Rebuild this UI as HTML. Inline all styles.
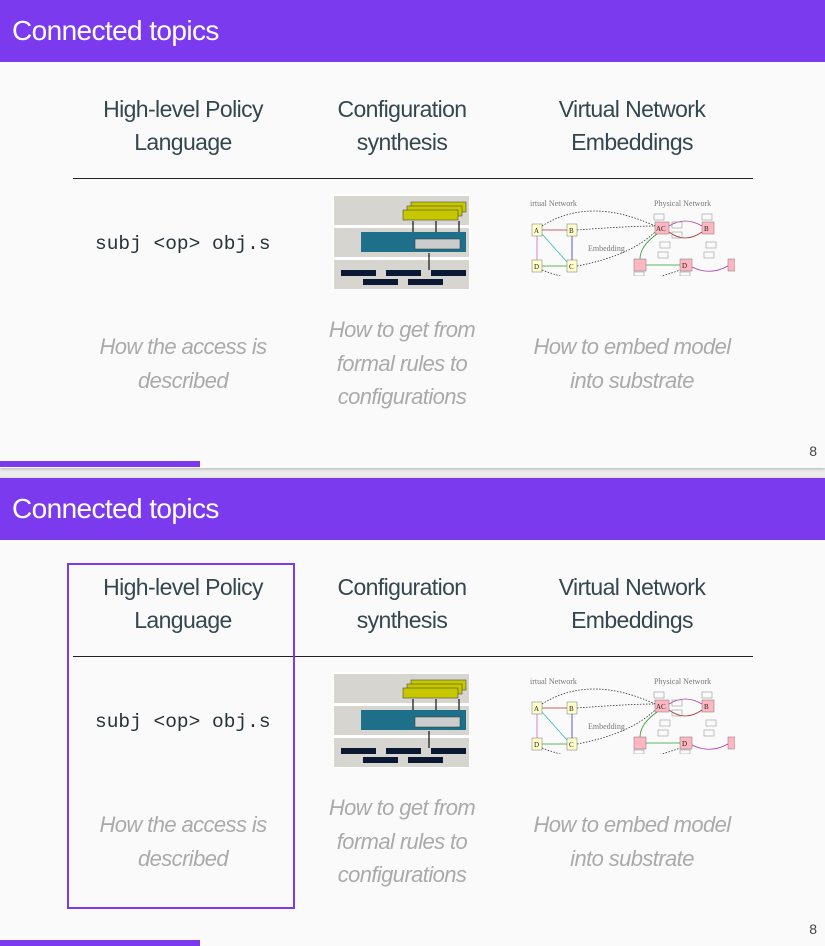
<!DOCTYPE html>
<html><head><meta charset="utf-8"><style>
*{margin:0;padding:0;box-sizing:border-box}
body{width:825px;height:946px;background:#ececec;font-family:"Liberation Sans",sans-serif;position:relative;overflow:hidden}
.slide{position:absolute;left:0;width:825px;height:468px;background:#fafafa;box-shadow:0 1px 3px rgba(0,0,0,.25)}
.hdr{position:absolute;left:0;top:0;width:825px;height:62px;background:#7c3aee;color:#fff;font-size:28px;line-height:62px;padding-left:12px;letter-spacing:-0.6px;transform-origin:left}
.h{position:absolute;width:240px;text-align:center;color:#34474f;font-size:23px;line-height:33px;letter-spacing:-0.6px}
.rule{position:absolute;left:73px;top:178px;width:680px;height:1px;background:#222}
.code{position:absolute;left:95px;top:233px;font-family:"Liberation Mono",monospace;font-size:19.5px;color:#263238}
.it{position:absolute;width:240px;text-align:center;color:#aaa;font-style:italic;font-size:22px;line-height:33.5px;letter-spacing:-0.6px}
.pb{position:absolute;left:0;top:461px;width:200px;height:6px;background:#7c3aee}
.num{position:absolute;right:8px;top:443px;font-size:14px;color:#444}
.box{position:absolute;left:67px;top:85px;width:228px;height:346px;border:2.5px solid #7c3aee}
</style></head><body>

<div class="slide" style="top:0">
<div class="hdr">Connected topics</div>
<div class="h" style="left:63px;top:93px">High-level Policy<br>Language</div>
<div class="h" style="left:282px;top:93px">Configuration<br>synthesis</div>
<div class="h" style="left:512px;top:93px">Virtual Network<br>Embeddings</div>
<div class="rule"></div>
<div class="code">subj &lt;op&gt; obj.s</div>
<svg style="position:absolute;left:333px;top:194px" width="137" height="96" viewBox="0 0 137 96">
<rect width="137" height="96" fill="#fff"/>
<rect x="1" y="2" width="135" height="29" fill="#d6d5d0"/>
<rect x="1" y="34" width="135" height="29" fill="#d6d5d0"/>
<rect x="1" y="66" width="135" height="29" fill="#d6d5d0"/>
<rect x="78" y="8" width="55" height="10" fill="#c7c700" stroke="#333" stroke-width=".5"/>
<rect x="74" y="12" width="55" height="10" fill="#c7c700" stroke="#333" stroke-width=".5"/>
<rect x="70" y="16" width="55" height="10" fill="#c7c700" stroke="#333" stroke-width=".5"/>
<rect x="28" y="38" width="105" height="20" fill="#1d6f8a"/>
<rect x="82" y="45" width="45" height="10" fill="#ccc" stroke="#333" stroke-width=".5"/>
<g fill="#0b1833"><rect x="8" y="76" width="35" height="6"/><rect x="53" y="76" width="35" height="6"/><rect x="98" y="76" width="35" height="6"/><rect x="30" y="85" width="35" height="6"/><rect x="75" y="85" width="35" height="6"/></g>
<g stroke="#111" stroke-width="1.2"><line x1="80" y1="27" x2="80" y2="38"/><line x1="103" y1="27" x2="103" y2="38"/><line x1="126" y1="27" x2="126" y2="38"/><line x1="96" y1="59" x2="96" y2="76"/></g>
</svg>
<svg style="position:absolute;left:530px;top:196px" width="205" height="80" viewBox="0 0 205 80">
<text x="0" y="10" font-size="8" fill="#777" font-family="Liberation Serif">irtual Network</text>
<text x="124" y="10" font-size="8" fill="#777" font-family="Liberation Serif">Physical Network</text>
<text x="58" y="55" font-size="8" fill="#777" font-family="Liberation Serif">Embedding</text>
<g fill="#ffffcc" stroke="#888" stroke-width=".6"><rect x="2" y="28" width="10" height="12"/><rect x="37" y="28" width="10" height="12"/><rect x="2" y="64" width="10" height="12"/><rect x="37" y="64" width="10" height="12"/></g>
<g fill="#ffb6c1" stroke="#888" stroke-width=".6"><rect x="125" y="26" width="14" height="12"/><rect x="172" y="26" width="12" height="12"/><rect x="104" y="63" width="12" height="12"/><rect x="150" y="63" width="12" height="12"/><rect x="198" y="63" width="7" height="12"/></g>
<g font-size="7" font-family="Liberation Serif" fill="#222"><text x="4" y="37">A</text><text x="39" y="37">B</text><text x="4" y="73">D</text><text x="39" y="73">C</text><text x="126" y="35">AC</text><text x="174" y="35">B</text><text x="152" y="72">D</text></g>
<g fill="none" stroke-width=".8"><line x1="12" y1="34" x2="37" y2="34" stroke="#a33"/><line x1="12" y1="38" x2="37" y2="66" stroke="#3bb"/><line x1="42" y1="40" x2="42" y2="64" stroke="#33c"/><line x1="37" y1="70" x2="12" y2="70" stroke="#393"/><line x1="7" y1="40" x2="7" y2="64" stroke="#c6c"/>
<path d="M139 30 Q155 20 172 30" stroke="#a3a"/><path d="M139 36 Q155 48 172 36" stroke="#a33"/><path d="M127 38 Q110 50 110 63" stroke="#393"/><path d="M116 69 L150 69" stroke="#393"/><path d="M162 71 Q180 80 198 70" stroke="#a3a"/>
<path d="M12 30 Q60 0 125 30" stroke="#333" stroke-dasharray="1.5 1.5"/><path d="M47 34 Q100 30 125 30" stroke="#333" stroke-dasharray="1.5 1.5"/><path d="M47 70 Q100 60 125 36" stroke="#333" stroke-dasharray="1.5 1.5"/><path d="M12 74 Q80 100 150 74" stroke="#333" stroke-dasharray="1.5 1.5"/></g>
<g fill="none" stroke="#999" stroke-width=".6"><rect x="142" y="26" width="10" height="6"/><rect x="142" y="36" width="10" height="6"/><rect x="124" y="18" width="10" height="6"/><rect x="172" y="18" width="10" height="6"/><rect x="130" y="46" width="10" height="6"/><rect x="176" y="46" width="10" height="6"/><rect x="128" y="56" width="10" height="6"/><rect x="174" y="56" width="10" height="6"/><rect x="104" y="76" width="10" height="4"/><rect x="150" y="76" width="10" height="4"/></g>
</svg>
<div class="it" style="left:63px;top:330px">How the access is<br>described</div>
<div class="it" style="left:282px;top:313px">How to get from<br>formal rules to<br>configurations</div>
<div class="it" style="left:512px;top:330px">How to embed model<br>into substrate</div>
<div class="num">8</div>
<div class="pb"></div>
</div>

<div class="slide" style="top:478px;height:468px">
<div class="hdr">Connected topics</div>
<div class="h" style="left:63px;top:93px">High-level Policy<br>Language</div>
<div class="h" style="left:282px;top:93px">Configuration<br>synthesis</div>
<div class="h" style="left:512px;top:93px">Virtual Network<br>Embeddings</div>
<div class="rule"></div>
<div class="code">subj &lt;op&gt; obj.s</div>
<svg style="position:absolute;left:333px;top:194px" width="137" height="96" viewBox="0 0 137 96">
<rect width="137" height="96" fill="#fff"/>
<rect x="1" y="2" width="135" height="29" fill="#d6d5d0"/>
<rect x="1" y="34" width="135" height="29" fill="#d6d5d0"/>
<rect x="1" y="66" width="135" height="29" fill="#d6d5d0"/>
<rect x="78" y="8" width="55" height="10" fill="#c7c700" stroke="#333" stroke-width=".5"/>
<rect x="74" y="12" width="55" height="10" fill="#c7c700" stroke="#333" stroke-width=".5"/>
<rect x="70" y="16" width="55" height="10" fill="#c7c700" stroke="#333" stroke-width=".5"/>
<rect x="28" y="38" width="105" height="20" fill="#1d6f8a"/>
<rect x="82" y="45" width="45" height="10" fill="#ccc" stroke="#333" stroke-width=".5"/>
<g fill="#0b1833"><rect x="8" y="76" width="35" height="6"/><rect x="53" y="76" width="35" height="6"/><rect x="98" y="76" width="35" height="6"/><rect x="30" y="85" width="35" height="6"/><rect x="75" y="85" width="35" height="6"/></g>
<g stroke="#111" stroke-width="1.2"><line x1="80" y1="27" x2="80" y2="38"/><line x1="103" y1="27" x2="103" y2="38"/><line x1="126" y1="27" x2="126" y2="38"/><line x1="96" y1="59" x2="96" y2="76"/></g>
</svg>
<svg style="position:absolute;left:530px;top:196px" width="205" height="80" viewBox="0 0 205 80">
<text x="0" y="10" font-size="8" fill="#777" font-family="Liberation Serif">irtual Network</text>
<text x="124" y="10" font-size="8" fill="#777" font-family="Liberation Serif">Physical Network</text>
<text x="58" y="55" font-size="8" fill="#777" font-family="Liberation Serif">Embedding</text>
<g fill="#ffffcc" stroke="#888" stroke-width=".6"><rect x="2" y="28" width="10" height="12"/><rect x="37" y="28" width="10" height="12"/><rect x="2" y="64" width="10" height="12"/><rect x="37" y="64" width="10" height="12"/></g>
<g fill="#ffb6c1" stroke="#888" stroke-width=".6"><rect x="125" y="26" width="14" height="12"/><rect x="172" y="26" width="12" height="12"/><rect x="104" y="63" width="12" height="12"/><rect x="150" y="63" width="12" height="12"/><rect x="198" y="63" width="7" height="12"/></g>
<g font-size="7" font-family="Liberation Serif" fill="#222"><text x="4" y="37">A</text><text x="39" y="37">B</text><text x="4" y="73">D</text><text x="39" y="73">C</text><text x="126" y="35">AC</text><text x="174" y="35">B</text><text x="152" y="72">D</text></g>
<g fill="none" stroke-width=".8"><line x1="12" y1="34" x2="37" y2="34" stroke="#a33"/><line x1="12" y1="38" x2="37" y2="66" stroke="#3bb"/><line x1="42" y1="40" x2="42" y2="64" stroke="#33c"/><line x1="37" y1="70" x2="12" y2="70" stroke="#393"/><line x1="7" y1="40" x2="7" y2="64" stroke="#c6c"/>
<path d="M139 30 Q155 20 172 30" stroke="#a3a"/><path d="M139 36 Q155 48 172 36" stroke="#a33"/><path d="M127 38 Q110 50 110 63" stroke="#393"/><path d="M116 69 L150 69" stroke="#393"/><path d="M162 71 Q180 80 198 70" stroke="#a3a"/>
<path d="M12 30 Q60 0 125 30" stroke="#333" stroke-dasharray="1.5 1.5"/><path d="M47 34 Q100 30 125 30" stroke="#333" stroke-dasharray="1.5 1.5"/><path d="M47 70 Q100 60 125 36" stroke="#333" stroke-dasharray="1.5 1.5"/><path d="M12 74 Q80 100 150 74" stroke="#333" stroke-dasharray="1.5 1.5"/></g>
<g fill="none" stroke="#999" stroke-width=".6"><rect x="142" y="26" width="10" height="6"/><rect x="142" y="36" width="10" height="6"/><rect x="124" y="18" width="10" height="6"/><rect x="172" y="18" width="10" height="6"/><rect x="130" y="46" width="10" height="6"/><rect x="176" y="46" width="10" height="6"/><rect x="128" y="56" width="10" height="6"/><rect x="174" y="56" width="10" height="6"/><rect x="104" y="76" width="10" height="4"/><rect x="150" y="76" width="10" height="4"/></g>
</svg>
<div class="it" style="left:63px;top:330px">How the access is<br>described</div>
<div class="it" style="left:282px;top:313px">How to get from<br>formal rules to<br>configurations</div>
<div class="it" style="left:512px;top:330px">How to embed model<br>into substrate</div>
<div class="box"></div>
<div class="num">8</div>
<div class="pb" style="top:462px"></div>
</div>
</body></html>
